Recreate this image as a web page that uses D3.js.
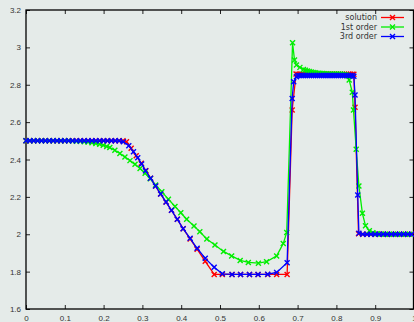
<!DOCTYPE html>
<html>
<head>
<meta charset="utf-8">
<script src="https://cdn.jsdelivr.net/npm/d3@7"></script>
<style>
  html, body { margin: 0; padding: 0; background: #e5ebe9; }
  svg { display: block; font-family: "DejaVu Sans", sans-serif; }
</style>
</head>
<body>
<div id="chart"></div>
<script>
// tick values
const xTicks = [0, 0.1, 0.2, 0.3, 0.4, 0.5, 0.6, 0.7, 0.8, 0.9, 1];
const yTicks = [1.6, 1.8, 2, 2.2, 2.4, 2.6, 2.8, 3, 3.2];

// exact solution
const solX = [0, 0.01, 0.02, 0.03, 0.04, 0.05, 0.06, 0.07, 0.08, 0.09, 0.1, 0.11, 0.12, 0.13, 0.14, 0.15, 0.16, 0.17, 0.18, 0.19, 0.2, 0.21, 0.22, 0.23, 0.24, 0.25,
  0.259, 0.271, 0.284, 0.297, 0.309, 0.321, 0.334, 0.347, 0.361, 0.375, 0.39, 0.405, 0.423, 0.441, 0.462, 0.485,
  0.506, 0.531, 0.553, 0.576, 0.598, 0.623, 0.646, 0.673, 0.686, 0.696,
  0.701, 0.706, 0.711, 0.716, 0.721, 0.726, 0.731, 0.736, 0.741, 0.746, 0.751, 0.756, 0.761, 0.766, 0.771, 0.776, 0.781, 0.786, 0.791, 0.796, 0.801, 0.806, 0.811, 0.816, 0.821, 0.826, 0.831, 0.836, 0.841, 0.845,
  0.848, 0.857, 0.868, 0.879, 0.889, 0.9, 0.91, 0.921, 0.931, 0.942, 0.952, 0.963, 0.973, 0.984, 0.994];
const solY = [2.5, 2.5, 2.5, 2.5, 2.5, 2.5, 2.5, 2.5, 2.5, 2.5, 2.5, 2.5, 2.5, 2.5, 2.5, 2.5, 2.5, 2.5, 2.5, 2.5, 2.5, 2.5, 2.5, 2.5, 2.5, 2.5,
  2.495, 2.46, 2.42, 2.38, 2.34, 2.3, 2.258, 2.215, 2.172, 2.128, 2.08, 2.03, 1.975, 1.92, 1.855, 1.785,
  1.785, 1.785, 1.785, 1.785, 1.785, 1.785, 1.785, 1.785, 2.665, 2.857,
  2.856, 2.856, 2.856, 2.856, 2.856, 2.856, 2.856, 2.856, 2.856, 2.856, 2.856, 2.856, 2.856, 2.856, 2.856, 2.856, 2.856, 2.856, 2.856, 2.856, 2.856, 2.856, 2.856, 2.856, 2.856, 2.856, 2.856, 2.856, 2.856, 2.856,
  2.68, 2.003, 2, 2, 2, 2, 2, 2, 2, 2, 2, 2, 2, 2, 2];

// 1st order scheme
const firstX = [0, 0.01, 0.02, 0.03, 0.04, 0.05, 0.06, 0.07, 0.08, 0.09, 0.1, 0.11, 0.12, 0.13, 0.14, 0.15, 0.16, 0.17, 0.18, 0.19,
  0.199, 0.208, 0.216, 0.229, 0.242, 0.255, 0.268, 0.281, 0.294, 0.307, 0.32, 0.334, 0.35, 0.367, 0.384, 0.399, 0.414, 0.433, 0.448,
  0.466, 0.487, 0.509, 0.53, 0.552, 0.573, 0.599, 0.62, 0.646, 0.663, 0.672,
  0.687, 0.692, 0.697, 0.706, 0.715, 0.72, 0.725, 0.73, 0.735, 0.74, 0.745, 0.75, 0.755, 0.76, 0.765, 0.77, 0.775, 0.78, 0.785, 0.79, 0.795, 0.8, 0.805, 0.81, 0.815, 0.82, 0.825, 0.829,
  0.833, 0.841, 0.844, 0.851, 0.858, 0.867, 0.875, 0.885, 0.894, 0.905, 0.915, 0.926, 0.936, 0.947, 0.957, 0.968, 0.978, 0.989];
const firstY = [2.5, 2.5, 2.5, 2.5, 2.5, 2.5, 2.5, 2.5, 2.5, 2.5, 2.5, 2.5, 2.499, 2.498, 2.497, 2.495, 2.493, 2.49, 2.486, 2.481,
  2.476, 2.47, 2.464, 2.449, 2.432, 2.413, 2.394, 2.374, 2.352, 2.327, 2.297, 2.264, 2.228, 2.187, 2.149, 2.115, 2.08, 2.044, 2.013,
  1.975, 1.942, 1.908, 1.884, 1.86, 1.849, 1.845, 1.853, 1.884, 1.95, 2.01,
  3.025, 2.932, 2.906, 2.893, 2.882, 2.878, 2.874, 2.871, 2.868, 2.866, 2.864, 2.862, 2.861, 2.86, 2.86, 2.859, 2.859, 2.858, 2.858, 2.858, 2.857, 2.857, 2.857, 2.857, 2.856, 2.855, 2.853, 2.848,
  2.825, 2.76, 2.665, 2.455, 2.258, 2.112, 2.046, 2.019, 2.008, 2.003, 2.001, 2, 2, 2, 2, 2, 2, 2];

// 3rd order scheme
const thirdX = [0, 0.01, 0.02, 0.03, 0.04, 0.05, 0.06, 0.07, 0.08, 0.09, 0.1, 0.11, 0.12, 0.13, 0.14, 0.15, 0.16, 0.17, 0.18, 0.19, 0.2, 0.21, 0.22, 0.23, 0.24,
  0.251, 0.265, 0.277, 0.288, 0.298, 0.308, 0.321, 0.334, 0.347, 0.361, 0.375, 0.39, 0.405, 0.423, 0.441, 0.462, 0.485,
  0.506, 0.531, 0.553, 0.576, 0.598, 0.623, 0.646, 0.673, 0.686, 0.69, 0.697,
  0.701, 0.706, 0.711, 0.716, 0.721, 0.726, 0.731, 0.736, 0.741, 0.746, 0.751, 0.756, 0.761, 0.766, 0.771, 0.776, 0.781, 0.786, 0.791, 0.796, 0.801, 0.806, 0.811, 0.816, 0.821, 0.826, 0.831, 0.836, 0.841, 0.845,
  0.848, 0.855, 0.858, 0.868, 0.879, 0.889, 0.9, 0.91, 0.921, 0.931, 0.942, 0.952, 0.963, 0.973, 0.984, 0.994];
const thirdY = [2.5, 2.5, 2.5, 2.5, 2.5, 2.5, 2.5, 2.5, 2.5, 2.5, 2.5, 2.5, 2.5, 2.5, 2.5, 2.5, 2.5, 2.5, 2.5, 2.5, 2.5, 2.5, 2.5, 2.5, 2.5,
  2.495, 2.474, 2.441, 2.41, 2.376, 2.34, 2.3, 2.258, 2.216, 2.172, 2.128, 2.08, 2.03, 1.978, 1.925, 1.871, 1.823,
  1.788, 1.785, 1.785, 1.785, 1.785, 1.786, 1.796, 1.848, 2.727, 2.816, 2.843,
  2.85, 2.85, 2.85, 2.85, 2.85, 2.85, 2.85, 2.85, 2.85, 2.85, 2.85, 2.85, 2.85, 2.85, 2.85, 2.85, 2.85, 2.85, 2.85, 2.85, 2.85, 2.85, 2.85, 2.85, 2.85, 2.85, 2.85, 2.85, 2.85, 2.845,
  2.745, 2.21, 2.005, 2, 2, 2, 2, 2, 2, 2, 2, 2, 2, 2, 2, 2];

const seriesNames = ['solution', '1st order', '3rd order'];
const seriesColors = ['#ff0000', '#00ee00', '#0000ff'];

const width = 414, height = 322;
const margin = { top: 10, right: 0, bottom: 13, left: 26 };

const svg = d3.select('#chart').append('svg').attr('width', width).attr('height', height);
svg.append('rect').attr('width', width).attr('height', height).attr('fill', '#e5ebe9');

const x = d3.scaleLinear().domain([0, 1]).range([margin.left, width - margin.right]);
const y = d3.scaleLinear().domain([1.6, 3.2]).range([height - margin.bottom, margin.top]);

const fmt = d3.format('~g');

const styleAxis = g => {
  g.select('.domain').remove();
  g.selectAll('line').attr('stroke', '#222');
  g.selectAll('text').attr('fill', '#333').style('font-size', '8px');
};

svg.append('g')
  .attr('transform', `translate(0,${y(1.6)})`)
  .call(d3.axisBottom(x).tickValues(xTicks).tickFormat(fmt).tickSizeInner(-4).tickSizeOuter(0).tickPadding(6))
  .call(styleAxis);
svg.append('g')
  .attr('transform', `translate(0,${y(3.2)})`)
  .call(d3.axisTop(x).tickValues(xTicks).tickFormat('').tickSizeInner(-4).tickSizeOuter(0))
  .call(styleAxis);
svg.append('g')
  .attr('transform', `translate(${x(0)},0)`)
  .call(d3.axisLeft(y).tickValues(yTicks).tickFormat(fmt).tickSizeInner(-4).tickSizeOuter(0).tickPadding(5))
  .call(styleAxis);
svg.append('g')
  .attr('transform', `translate(${x(1) - 0.5},0)`)
  .call(d3.axisRight(y).tickValues(yTicks).tickFormat('').tickSizeInner(-4).tickSizeOuter(0))
  .call(styleAxis);

// frame
svg.append('rect')
  .attr('x', x(0)).attr('y', y(3.2))
  .attr('width', x(1) - x(0) - 0.5).attr('height', y(1.6) - y(3.2))
  .attr('fill', 'none').attr('stroke', '#000').attr('stroke-width', 1.3);

const plot = svg.append('g');
const cross = (sel, color) => sel.append('path')
  .attr('d', 'M-2.5,-2.5L2.5,2.5M-2.5,2.5L2.5,-2.5')
  .attr('stroke', color).attr('stroke-width', 1.4).attr('fill', 'none');

const drawSeries = (xs, ys, color) => {
  const pts = xs.map((v, i) => [v, ys[i]]);
  plot.append('path')
    .datum(pts)
    .attr('fill', 'none')
    .attr('stroke', color)
    .attr('stroke-width', 1.3)
    .attr('d', d3.line().x(d => x(d[0])).y(d => y(d[1])));
  plot.selectAll(null).data(pts).enter().append('g')
    .attr('transform', d => `translate(${x(d[0])},${y(d[1])})`)
    .each(function () { cross(d3.select(this), color); });
};

drawSeries(solX, solY, seriesColors[0]);
drawSeries(firstX, firstY, seriesColors[1]);
drawSeries(thirdX, thirdY, seriesColors[2]);

// legend
const legend = svg.append('g');
seriesNames.forEach((name, i) => {
  const ly = 17.5 + i * 9.5;
  legend.append('text')
    .attr('x', 377).attr('y', ly).attr('dy', '0.35em')
    .attr('text-anchor', 'end').attr('fill', '#333')
    .style('font-size', '8px').text(name);
  legend.append('line')
    .attr('x1', 381).attr('x2', 404).attr('y1', ly).attr('y2', ly)
    .attr('stroke', seriesColors[i]).attr('stroke-width', 1.3);
  const m = legend.append('g').attr('transform', `translate(392.5,${ly})`);
  cross(m, seriesColors[i]);
});
</script>
</body>
</html>
